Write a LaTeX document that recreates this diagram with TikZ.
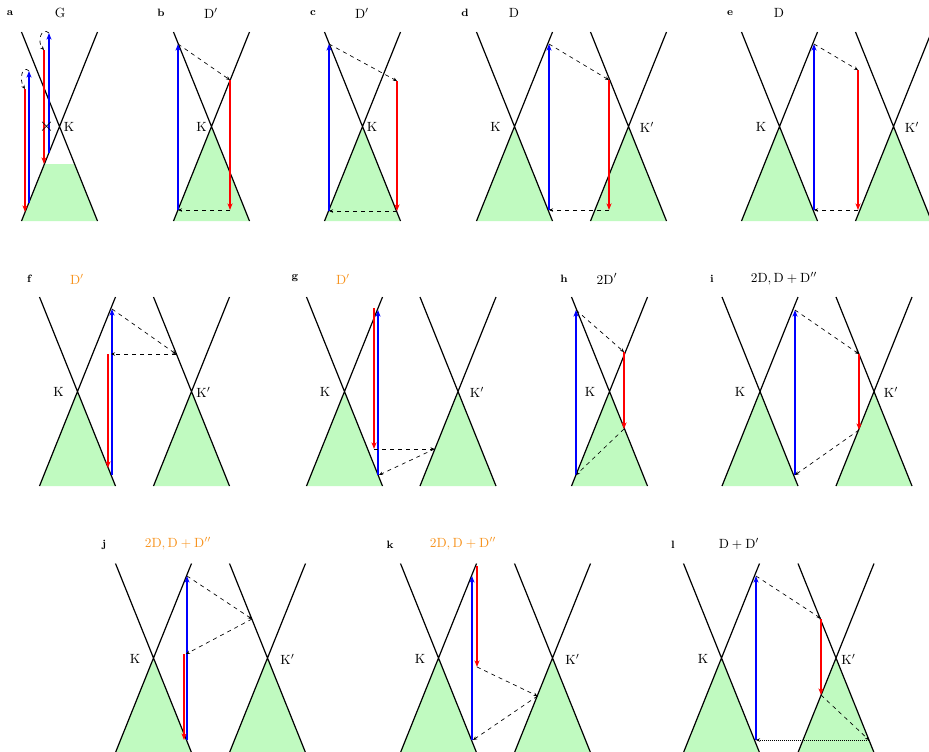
\documentclass[tikz,border=0pt]{standalone}
\usepackage{xcolor}
\usepackage{tikz}
\usetikzlibrary{arrows.meta}
\definecolor{conegreen}{HTML}{C0FAC0}
\definecolor{lblorange}{HTML}{F7931E}

\begin{document}
\begin{tikzpicture}[x=0.75pt,y=-0.75pt,
  cn/.style={draw=black,line width=0.9pt},
  fl/.style={fill=conegreen},
  bl/.style={-{Stealth[length=5pt,width=3.8pt]},draw=blue,line width=0.8pt},
  rd/.style={-{Stealth[length=5pt,width=3.8pt]},draw=red,line width=0.8pt},
  ds/.style={-{Stealth[length=3pt,width=2.6pt]},dashed,line width=0.5pt},
  dt/.style={-{Stealth[length=3pt,width=2.6pt]},densely dotted,line width=0.5pt},
  lbl/.style={font=\footnotesize\bfseries},
  org/.style={text=lblorange},
  xlines/.pic={\draw[cn] (-38,-94.5)--(38,94.5) (38,-94.5)--(-38,94.5);},
  cone/.pic={\fill[fl] (0,0)--(-38,94.5)--(38,94.5)--cycle;
    \draw[cn] (-38,-94.5)--(38,94.5) (38,-94.5)--(-38,94.5);}]
\useasboundingbox (0,0) rectangle (929,751);

% row 1
\fill[fl] (21.5,221)--(97.5,221)--(74.6,164)--(44.4,164)--cycle;
\pic at (59.5,126.5) {xlines};
\pic at (211.5,126.5) {cone};
\pic at (362.5,126.5) {cone};
\pic at (514.5,126.5) {cone}; \pic at (628.5,126.5) {cone};
\pic at (779.5,126.5) {cone}; \pic at (893.5,126.5) {cone};

\node[lbl] (la) at (10,13) {a}; \node (ta) at (60,13) {$\mathrm{G}$};
\node[lbl] (lb) at (161,13) {b}; \node (tb) at (211,13) {$\mathrm{D}'$};
\node[lbl] (lc) at (313,13) {c}; \node (tc) at (362,13) {$\mathrm{D}'$};
\node[lbl] (ld) at (465,13) {d}; \node (td) at (514,13) {$\mathrm{D}$};
\node[lbl] (le) at (730,13) {e}; \node (te) at (779,13) {$\mathrm{D}$};

\node (ka) at (69,127) {$\mathrm{K}$};
\node (kb) at (201.5,127) {$\mathrm{K}$};
\node (kc) at (372,127) {$\mathrm{K}$};
\node (kd) at (495.5,127) {$\mathrm{K}$}; \node (kd2) at (647,127) {$\mathrm{K}'$};
\node (ke) at (761,127) {$\mathrm{K}$}; \node (ke2) at (912,127) {$\mathrm{K}'$};

\coordinate (a1) at (49,153); \coordinate (a2) at (49,33); \coordinate (a3) at (44,50); \coordinate (a4) at (44,164);
\coordinate (a5) at (29,203); \coordinate (a6) at (29,71); \coordinate (a7) at (25,89); \coordinate (a8) at (25,212);
\draw[bl] (a1)--(a2); \draw[ds] (a2) .. controls (41,26) and (37,42) .. (a3); \draw[rd] (a3)--(a4);
\draw[bl] (a5)--(a6); \draw[ds] (a6) .. controls (22,64) and (19,80) .. (a7); \draw[rd] (a7)--(a8);
\node[font=\Large,inner sep=0pt] (xa) at (46.5,126.5) {$\times$};

\coordinate (b1) at (178,210); \coordinate (b2) at (178,44); \coordinate (b3) at (230,80); \coordinate (b4) at (230,210);
\draw[bl] (b1)--(b2); \draw[ds] (b2)--(b3); \draw[rd] (b3)--(b4); \draw[ds] (b4)--(b1);

\coordinate (c1) at (329,211); \coordinate (c2) at (329,44); \coordinate (c3) at (397,81); \coordinate (c4) at (397,211);
\draw[bl] (c1)--(c2); \draw[ds] (c2)--(c3); \draw[rd] (c3)--(c4); \draw[ds] (c4)--(c1);

\coordinate (d1) at (549,210); \coordinate (d2) at (549,44); \coordinate (d3) at (609,80); \coordinate (d4) at (609,210);
\draw[bl] (d1)--(d2); \draw[ds] (d2)--(d3); \draw[rd] (d3)--(d4); \draw[ds] (d4)--(d1);

\coordinate (e1) at (814,210); \coordinate (e2) at (814,44); \coordinate (e3) at (858,70); \coordinate (e4) at (858,210);
\draw[bl] (e1)--(e2); \draw[ds] (e2)--(e3); \draw[rd] (e3)--(e4); \draw[ds] (e4)--(e1);

% row 2
\pic at (77.5,391.5) {cone}; \pic at (191.5,391.5) {cone};
\pic at (344.5,391.5) {cone}; \pic at (458,391.5) {cone};
\pic at (609.5,391.5) {cone};
\pic at (760,391.5) {cone}; \pic at (874,391.5) {cone};

\node[lbl] (lf) at (29,279) {f}; \node[org] (tf) at (77,279) {$\mathrm{D}'$};
\node[lbl] (lg) at (295,278) {g}; \node[org] (tg) at (343,279) {$\mathrm{D}'$};
\node[lbl] (lh) at (564,279) {h}; \node (th) at (607,279) {$\mathrm{2D}'$};
\node[lbl] (li) at (712,279) {i}; \node (ti) at (784,279) {$\mathrm{2D,D+D''}$};

\node (kf) at (58.5,392) {$\mathrm{K}$}; \node (kf2) at (203.5,392) {$\mathrm{K}'$};
\node (kg) at (325,392) {$\mathrm{K}$}; \node (kg2) at (477,392) {$\mathrm{K}'$};
\node (kh) at (590,392) {$\mathrm{K}$};
\node (ki) at (740,392) {$\mathrm{K}$}; \node (ki2) at (891,392) {$\mathrm{K}'$};

\coordinate (f1) at (112,475); \coordinate (f2) at (112,309); \coordinate (f3) at (176,354); \coordinate (f4) at (111,354);
\coordinate (f5) at (108,354); \coordinate (f6) at (108,468);
\draw[bl] (f1)--(f2); \draw[ds] (f2)--(f3); \draw[ds] (f3)--(f4); \draw[rd] (f5)--(f6);

\coordinate (g1) at (378,475); \coordinate (g2) at (378,310); \coordinate (g3) at (374,308); \coordinate (g4) at (374,449);
\coordinate (g5) at (434.5,449); \coordinate (g6) at (379,475);
\draw[bl] (g1)--(g2); \draw[rd] (g3)--(g4); \draw[ds] (g4)--(g5); \draw[ds] (g5)--(g6);

\coordinate (h1) at (576,475); \coordinate (h2) at (576,310); \coordinate (h3) at (624,352); \coordinate (h4) at (624,429);
\draw[bl] (h1)--(h2); \draw[ds] (h2)--(h3); \draw[rd] (h3)--(h4); \draw[ds] (h4)--(h1);

\coordinate (i1) at (795,475); \coordinate (i2) at (795,310); \coordinate (i3) at (859,354); \coordinate (i4) at (859,430);
\draw[bl] (i1)--(i2); \draw[ds] (i2)--(i3); \draw[rd] (i3)--(i4); \draw[ds] (i4)--(i1);

% row 3
\pic at (153.5,658) {cone}; \pic at (267.5,658) {cone};
\pic at (438.5,658) {cone}; \pic at (552.5,658) {cone};
\pic at (721.5,658) {cone}; \pic at (836,658) {cone};

\node[lbl] (lj) at (104,545) {j}; \node[org] (tj) at (178,544) {$\mathrm{2D,D+D''}$};
\node[lbl] (lk) at (390,545) {k}; \node[org] (tk) at (463,544) {$\mathrm{2D,D+D''}$};
\node[lbl] (ll) at (673,545) {l}; \node (tl) at (739,544) {$\mathrm{D+D'}$};

\node (kj) at (135,659) {$\mathrm{K}$}; \node (kj2) at (287.5,659) {$\mathrm{K}'$};
\node (kk) at (420,659) {$\mathrm{K}$}; \node (kk2) at (572.5,659) {$\mathrm{K}'$};
\node (kl) at (703,659) {$\mathrm{K}$}; \node (kl2) at (848.5,659) {$\mathrm{K}'$};

\coordinate (j1) at (187,740); \coordinate (j2) at (187,576); \coordinate (j3) at (252,619); \coordinate (j4) at (186,654);
\coordinate (j5) at (184,654); \coordinate (j6) at (184,740);
\draw[bl] (j1)--(j2); \draw[ds] (j2)--(j3); \draw[ds] (j3)--(j4); \draw[rd] (j5)--(j6);

\coordinate (k1) at (472,740); \coordinate (k2) at (472,576); \coordinate (k3) at (477,566); \coordinate (k4) at (477,667);
\coordinate (k5) at (537.5,696); \coordinate (k6) at (473,740);
\draw[bl] (k1)--(k2); \draw[rd] (k3)--(k4); \draw[ds] (k4)--(k5); \draw[ds] (k5)--(k6);

\coordinate (l1) at (756,740); \coordinate (l2) at (756,576); \coordinate (l3) at (821,618.5); \coordinate (l4) at (821,695);
\coordinate (l5) at (869,740);
\draw[bl] (l1)--(l2); \draw[ds] (l2)--(l3); \draw[rd] (l3)--(l4); \draw[ds] (l4)--(l5); \draw[dt] (l5)--(l1);
\end{tikzpicture}
\end{document}
